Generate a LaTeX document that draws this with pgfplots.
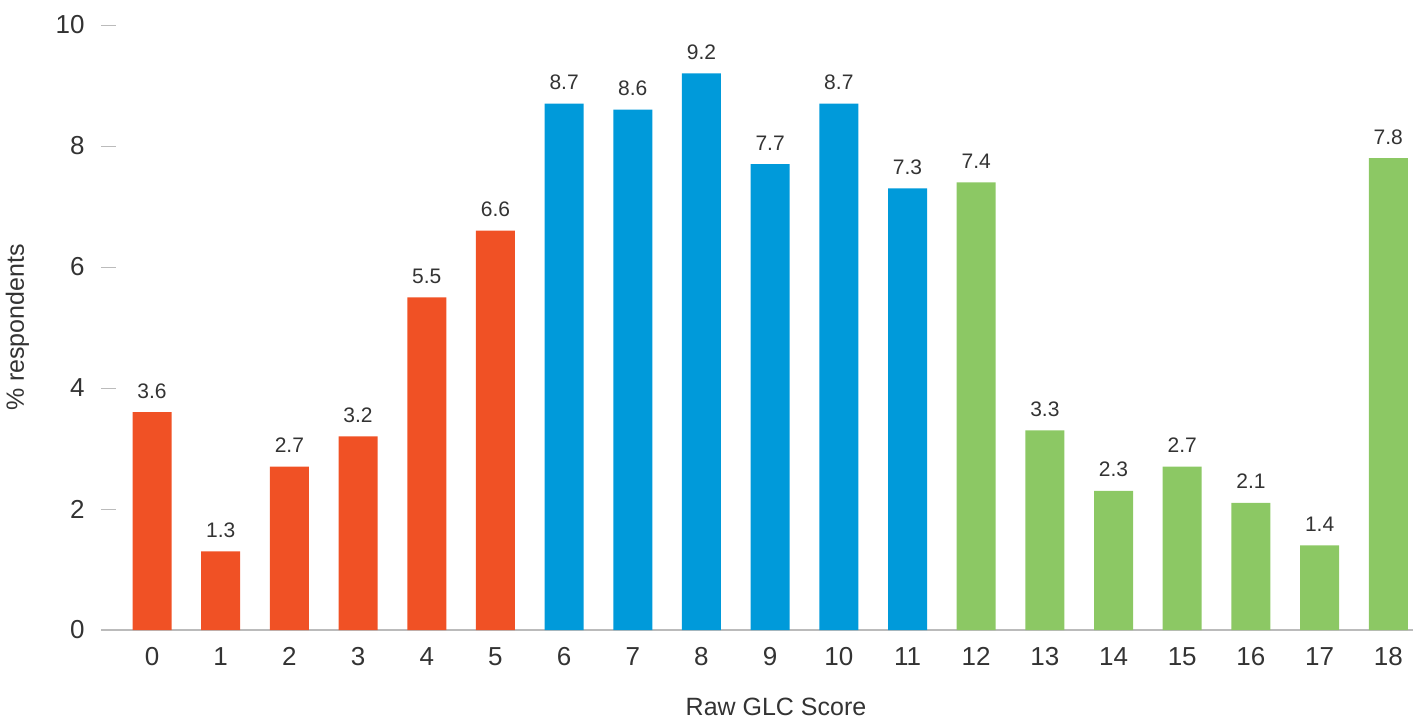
\documentclass[border=0pt]{standalone}
\usepackage{pgfplots}
\pgfplotsset{compat=1.18}
\usepackage{pgfplotstable}
\usepackage{fontspec}
\setmainfont{Liberation Sans}

\definecolor{lowRed}{HTML}{F05125}
\definecolor{midBlue}{HTML}{009ADA}
\definecolor{highGreen}{HTML}{8CC864}
\definecolor{txt}{HTML}{333333}
\definecolor{rule}{HTML}{BBBBBB}

% Share of respondents by raw GLC score
\pgfplotstableread{
score pct
0 3.6
1 1.3
2 2.7
3 3.2
4 5.5
5 6.6
}\lowband
\pgfplotstableread{
score pct
6 8.7
7 8.6
8 9.2
9 7.7
10 8.7
11 7.3
}\midband
\pgfplotstableread{
score pct
12 7.4
13 3.3
14 2.3
15 2.7
16 2.1
17 1.4
18 7.8
}\highband

\begin{document}
\begin{tikzpicture}
\begin{axis}[
  scale only axis,
  width=656pt, height=302.5pt,
  xmin=-0.743, xmax=18.36,
  ymin=0, ymax=10,
  clip=false,
  axis lines*=left,
  y axis line style={draw=none},
  x axis line style={draw=rule, line width=1pt},
  xtick={0,...,18},
  ytick={0,2,4,6,8,10},
  major x tick style={draw=none},
  major y tick style={draw=rule, line width=0.5pt},
  major tick length=7.5pt,
  tick align=inside,
  /pgf/number format/assume math mode=true,
  tick label style={font=\fontsize{13}{15}\selectfont, text=txt, inner sep=0pt},
  xticklabel style={anchor=base, yshift=-17.5pt},
  yticklabel style={anchor=east, xshift=-8pt},
  xlabel={Raw GLC Score},
  ylabel={\% respondents},
  label style={font=\fontsize{12.5}{15}\selectfont, text=txt, inner sep=0pt},
  xlabel style={at={(axis description cs:0.5145,0)}, anchor=base, yshift=-42.5pt},
  ylabel style={at={([xshift=-38.5pt]axis description cs:0,0.5)}, anchor=base, rotate=0},
  every axis plot/.append style={
    ybar, bar width=19.5pt, bar shift=0pt, draw=none,
  },
  nodes near coords,
  nodes near coords style={
    font=\fontsize{10.5}{12}\selectfont, text=txt,
    anchor=base, inner sep=0pt, yshift=7pt,
    /pgf/number format/.cd, fixed, fixed zerofill, precision=1,
    assume math mode=true,
  },
]
\addplot[fill=lowRed] table[x=score, y=pct] {\lowband};
\addplot[fill=midBlue] table[x=score, y=pct] {\midband};
\addplot[fill=highGreen] table[x=score, y=pct] {\highband};
\coordinate (o) at (rel axis cs:0,0);
\end{axis}
\path (o) ++(-50.5pt,-45pt) rectangle ++(711pt,360pt);
\end{tikzpicture}
\end{document}
